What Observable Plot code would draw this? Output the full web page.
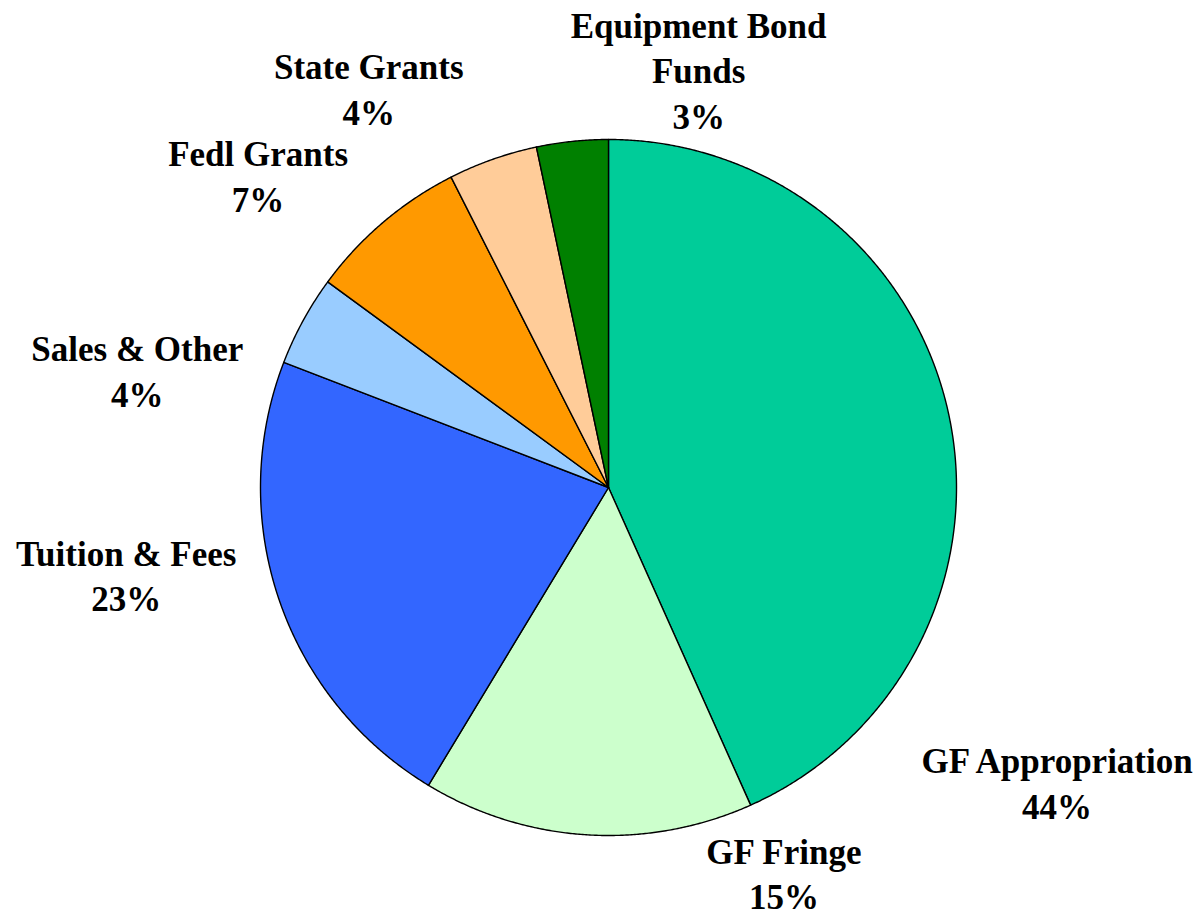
<!DOCTYPE html>
<html>
<head>
<meta charset="utf-8">
<script src="https://cdn.jsdelivr.net/npm/d3@7"></script>
<script src="https://cdn.jsdelivr.net/npm/@observablehq/plot@0.6"></script>
<style>
  html, body { margin: 0; padding: 0; background: #ffffff; }
  #chart svg { display: block; }
</style>
</head>
<body>
<div id="chart"></div>
<script>
// ---- Data ----
const categories = ["GF Appropriation", "GF Fringe", "Tuition & Fees", "Sales & Other", "Fedl Grants", "State Grants", "Equipment Bond Funds"];
const labelNames = ["GF Appropriation", "GF Fringe", "Tuition & Fees", "Sales & Other", "Fedl Grants", "State Grants", "Equipment Bond\nFunds"];
const shares = [43.3, 15.35, 22.2, 4.2, 7.47, 4.15, 3.32];   // slice sizes
const pctLabels = ["44%", "15%", "23%", "4%", "7%", "4%", "3%"]; // data labels as printed
const colors = ["#00CC99", "#CCFFCC", "#3366FF", "#99CCFF", "#FF9900", "#FFCC99", "#008000"];

// ---- Layout (label anchors in pie-radius units, centre = 0,0) ----
const labelX = [1.289, 0.504, -1.386, -1.354, -1.007, -0.689, 0.259];
const labelY = [-0.845, -1.104, -0.249, 0.339, 0.899, 1.150, 1.204];

const W = 1200, H = 918;
const cxPx = 608, cyPx = 487, R = 348;

const arcs = d3.pie().sort(null).value(d => d)(shares);

const sliceMarks = arcs.map((a, i) => {
  const pts = [{x: 0, y: 0}];
  const n = Math.max(2, Math.ceil((a.endAngle - a.startAngle) / 0.005));
  for (let k = 0; k <= n; k++) {
    const t = a.startAngle + (a.endAngle - a.startAngle) * k / n;
    pts.push({x: Math.sin(t), y: Math.cos(t)});
  }
  pts.push({x: 0, y: 0});
  return Plot.line(pts, {
    x: "x", y: "y",
    fill: colors[i],
    stroke: "#000000",
    strokeWidth: 1.4,
    strokeLinejoin: "round"
  });
});

const labels = categories.map((c, i) => ({
  name: c,
  text: labelNames[i] + "\n" + pctLabels[i],
  x: labelX[i],
  y: labelY[i]
}));

const chart = Plot.plot({
  width: W,
  height: H,
  margin: 0,
  style: {background: "#ffffff"},
  x: {domain: [-cxPx / R, (W - cxPx) / R], axis: null},
  y: {domain: [-(H - cyPx) / R, cyPx / R], axis: null},
  marks: [
    ...sliceMarks,
    Plot.text(labels, {
      x: "x", y: "y", text: "text",
      fontFamily: "'Liberation Serif', 'Times New Roman', serif",
      fontWeight: "bold",
      fontSize: 35,
      lineHeight: 1.3,
      textAnchor: "middle",
      fill: "#000000"
    })
  ]
});

document.getElementById("chart").appendChild(chart);
</script>
</body>
</html>
